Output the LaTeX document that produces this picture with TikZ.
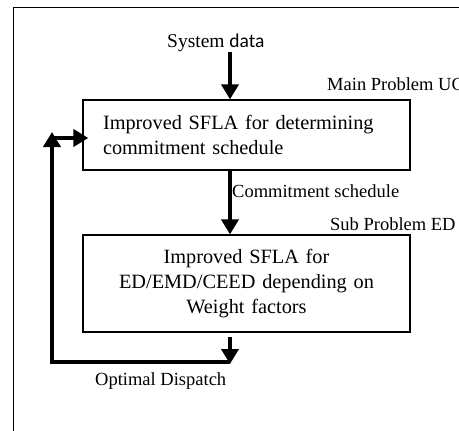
\documentclass[tikz,border=0pt]{standalone}
\usepackage{fontspec}
\setmainfont{Liberation Serif}
\newfontfamily\calib{Carlito}
\usetikzlibrary{arrows.meta}
\tikzset{
  procbox/.style={draw, line width=1.3pt, minimum width=327pt, inner ysep=0pt, font=\fontsize{20.3}{25}\selectfont},
  flow/.style={line width=4pt, -{Triangle[width=17pt,length=15pt]}},
  flowline/.style={line width=4pt},
  lbl/.style={inner sep=0pt, anchor=base west, font=\fontsize{18.5}{22}\selectfont},
}
\begin{document}
\begin{tikzpicture}[x=1pt,y=-1pt]
\useasboundingbox (0,0) rectangle (459,431);
\clip (0,0) rectangle (459,431);
% outer frame
\draw[line width=1.2pt] (13.5,440) -- (13.5,7.5) -- (470,7.5);
% main problem box
\node[procbox, minimum height=70pt, align=left, inner xsep=20pt, text width=287pt] (uc) at (246.5,135)
  {Improved SFLA for determining\\commitment schedule};
% sub problem box
\node[procbox, minimum height=97pt, align=center, inner xsep=10pt, text width=307pt] (ed) at (246.5,283.5)
  {Improved SFLA for\\ED/EMD/CEED depending on\\Weight factors};
% labels
\node[lbl, font=\fontsize{19.5}{23}\selectfont] (sys) at (167,48) {System {\calib data}};
\node[lbl] (mainlbl) at (327,90) {Main Problem UC};
\node[lbl] (cslbl) at (232,197) {Commitment schedule};
\node[lbl] (sublbl) at (330,230) {Sub Problem ED};
\node[lbl] (optlbl) at (95,385) {Optimal Dispatch};
% connectors
\coordinate (sysend) at (230,52);
\coordinate (edout) at (230,337);
\coordinate (corner1) at (52,362);
\coordinate (fbtip) at (52,132);
\coordinate (fbstart) at (52,138);
\draw[flow] (sysend) -- (sysend |- uc.north);
\draw[flow] (sysend |- uc.south) -- (sysend |- ed.north);
\draw[flow] (edout) -- (230,364);
\draw[flowline, line join=miter] (230,362) -- (corner1) -- (52,148);
\draw[flow] (52,150) -- (fbtip);
\draw[flow] (fbstart) -- ([xshift=6pt]uc.west |- fbstart);
\end{tikzpicture}
\end{document}
